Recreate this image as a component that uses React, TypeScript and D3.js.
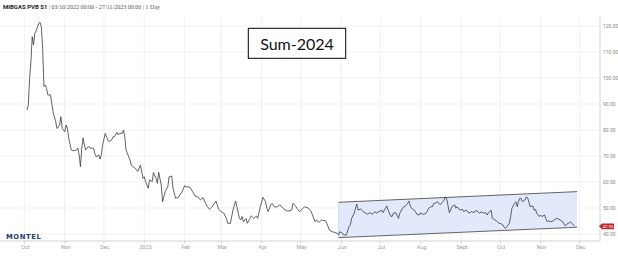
import React from "react";
import * as d3 from "d3";

// Day offsets from 03/10/2022 and daily settlement prices (EUR/MWh)
const dayOffsets = [
  0, 1, 2, 3, 4, 5, 6, 7, 9, 10,
  11, 12, 13, 14, 15, 16, 18, 19, 20, 22,
  23, 25, 26, 27, 29, 30, 31, 32, 34, 36,
  38, 39, 40, 41, 42, 43, 44, 45, 47, 49,
  51, 52, 53, 55, 56, 57, 58, 60, 62, 63,
  65, 66, 67, 69, 70, 71, 73, 74, 75, 76,
  78, 79, 80, 83, 85, 87, 89, 90, 91, 93,
  94, 96, 97, 99, 100, 101, 103, 104, 106, 108,
  109, 111, 112, 114, 116, 119, 121, 122, 125, 127,
  129, 131, 133, 135, 137, 138, 140, 142, 145, 147,
  149, 151, 153, 154, 156, 158, 160, 161, 163, 164,
  165, 166, 168, 169, 171, 172, 174, 176, 177, 179,
  181, 183, 184, 185, 187, 188, 190, 192, 194, 196,
  198, 200, 203, 204, 206, 207, 209, 211, 213, 216,
  218, 219, 221, 222, 224, 226, 229, 230, 232, 234,
  236, 238, 239, 240, 242, 243, 245, 247, 248, 249,
  251, 252, 253, 254, 256, 258, 260, 261, 263, 265,
  267, 268, 270, 272, 273, 275, 276, 277, 279, 280,
  281, 283, 285, 286, 288, 289, 290, 292, 293, 294,
  295, 297, 298, 299, 301, 302, 303, 304, 306, 307,
  308, 310, 311, 312, 313, 315, 316, 317, 319, 320,
  321, 322, 323, 324, 325, 326, 328, 329, 330, 332,
  334, 335, 337, 339, 341, 343, 344, 346, 347, 349,
  350, 352, 353, 354, 356, 357, 358, 360, 361, 362,
  363, 365, 366, 367, 368, 370, 371, 372, 374, 375,
  376, 377, 378, 379, 380, 382, 383, 384, 385, 386,
  388, 389, 390, 391, 393, 394, 395, 397, 398, 399,
  400, 402, 404, 405, 407, 409, 411, 412, 413, 414,
  416, 417, 418, 420,
];

const prices = [
  87.7, 89.6, 99.9, 106.3, 115.9, 112.7, 117.2, 118.1, 121.0, 121.4,
  119.7, 111.4, 96.7, 97.3, 96.0, 93.5, 93.5, 90.3, 87.0, 83.2,
  80.6, 81.9, 85.1, 80.6, 79.3, 81.9, 80.6, 76.8, 72.3, 72.0,
  72.3, 73.0, 70.4, 65.9, 73.0, 77.0, 74.2, 72.3, 73.6, 73.0,
  73.0, 71.0, 69.7, 70.4, 68.8, 70.4, 74.2, 78.7, 76.2, 75.5,
  76.2, 77.4, 77.4, 79.1, 78.1, 78.7, 78.7, 80.0, 77.4, 72.3,
  69.7, 68.5, 66.5, 65.3, 64.0, 66.5, 61.4, 62.0, 60.1, 57.6,
  60.8, 60.1, 63.6, 61.4, 59.5, 63.7, 58.8, 52.4, 56.3, 58.2,
  62.0, 62.3, 57.6, 53.7, 54.1, 56.3, 58.6, 58.2, 58.0, 56.3,
  54.6, 54.3, 53.1, 54.0, 51.8, 50.8, 49.5, 50.5, 52.7, 49.5,
  48.6, 48.0, 46.0, 44.1, 44.1, 49.2, 52.7, 50.5, 46.0, 45.4,
  46.7, 44.7, 46.0, 44.1, 46.0, 47.0, 46.0, 46.9, 46.0, 50.5,
  54.1, 52.4, 49.9, 48.6, 51.2, 51.8, 50.3, 50.5, 51.2, 50.1,
  49.2, 48.8, 49.2, 51.8, 50.8, 49.9, 48.6, 49.5, 50.5, 49.9,
  48.6, 47.3, 44.7, 45.4, 44.5, 45.4, 45.1, 44.1, 41.5, 40.9,
  40.6, 40.3, 39.6, 40.9, 40.3, 39.6, 39.6, 42.8, 43.5, 46.0,
  48.0, 49.9, 51.5, 49.2, 49.6, 48.6, 48.0, 47.6, 48.2, 47.6,
  48.6, 48.0, 48.6, 49.2, 48.2, 49.9, 50.8, 49.2, 46.9, 46.7,
  48.0, 48.2, 46.0, 48.0, 49.9, 50.5, 50.5, 51.8, 52.7, 50.8,
  49.9, 49.2, 48.6, 47.6, 47.3, 48.2, 47.7, 47.6, 48.0, 48.6,
  49.9, 50.5, 50.5, 51.8, 51.8, 52.4, 51.8, 51.2, 52.4, 53.1,
  54.3, 53.3, 50.8, 48.2, 49.2, 50.5, 51.2, 49.9, 50.5, 49.2,
  49.5, 48.6, 49.2, 48.0, 48.6, 48.2, 49.0, 48.6, 48.0, 48.6,
  48.0, 48.2, 47.3, 48.2, 49.2, 46.0, 45.7, 45.1, 44.7, 44.1,
  44.1, 43.5, 42.6, 42.2, 42.8, 44.1, 46.7, 49.9, 51.8, 52.4,
  50.5, 52.4, 53.7, 53.7, 52.4, 53.1, 54.3, 54.0, 52.4, 50.5,
  50.8, 49.2, 49.5, 48.0, 46.7, 47.3, 46.7, 47.3, 46.0, 44.7,
  45.1, 44.7, 45.1, 45.7, 46.0, 45.4, 44.7, 43.8, 43.1, 43.8,
  44.3, 44.7, 44.1, 42.95,
];

const yTicks = [40, 50, 60, 70, 80, 90, 100, 110, 120];
const monthLabels = ["Oct", "Nov", "Dec", "2023", "Feb", "Mar", "Apr", "May", "Jun", "Jul", "Aug", "Sept", "Oct", "Nov", "Dec"];

// Trend channel drawn on the chart (day offsets, price levels)
const channelDays = [239, 422];
const channelTop = [52.2, 56.3];
const channelBottom = [38.6, 42.6];

const titleBold = "MIBGAS PVB S1";
const titleRest = " | 03/10/2022 00:00 - 27/11/2023 00:00 | 1 Day";
const annotation = "Sum-2024";

const startDate = new Date(2022, 9, 3);
const endDate = new Date(2023, 10, 27);

export default function App() {
  const W = 618, H = 262;
  const plotTop = 17, plotBottom = 241, plotLeft = 0, plotRight = 600;

  const x = d3.scaleTime().domain([startDate, endDate]).range([27, 574.5]);
  const y = d3.scaleLinear().domain([40, 120]).range([234, 26]);
  const dateOf = (d: number) => d3.timeDay.offset(startDate, d);

  const data = dayOffsets.map((d, i) => ({ date: dateOf(d), v: prices[i] }));
  const line = d3.line<{ date: Date; v: number }>().x((d) => x(d.date)).y((d) => y(d.v));

  const months = d3.timeMonth.range(new Date(2022, 9, 1), new Date(2023, 11, 2));

  const cx0 = x(dateOf(channelDays[0]));
  const cx1 = x(dateOf(channelDays[1]));
  const ct0 = y(channelTop[0]), ct1 = y(channelTop[1]);
  const cb0 = y(channelBottom[0]), cb1 = y(channelBottom[1]);

  const last = prices[prices.length - 1];
  const ly = y(last);

  return (
    <svg width={W} height={H} style={{ position: "absolute", left: 0, top: 0, background: "#fff" }}>
      {yTicks.map((t) => (
        <line key={"h" + t} x1={plotLeft} x2={plotRight} y1={y(t)} y2={y(t)} stroke="#f0f0f0" strokeWidth={0.8} />
      ))}
      {months.map((m, i) => (
        <line key={"v" + i} x1={x(m)} x2={x(m)} y1={plotTop} y2={plotBottom} stroke="#eeeeee" strokeWidth={0.8} />
      ))}

      <polygon
        points={`${cx0},${ct0} ${cx1},${ct1} ${cx1},${cb1} ${cx0},${cb0}`}
        fill="#e2e9fb"
        stroke="none"
      />
      <line x1={cx0} x2={cx0} y1={ct0} y2={cb0} stroke="#c9d4f2" strokeWidth={0.8} />
      <line x1={cx0} x2={cx1} y1={ct0} y2={ct1} stroke="#555" strokeWidth={0.9} />
      <line x1={cx0} x2={cx1} y1={cb0} y2={cb1} stroke="#555" strokeWidth={0.9} />

      <path d={line(data) || ""} fill="none" stroke="#3a3a3a" strokeWidth={0.8} strokeLinejoin="round" />

      <line x1={plotLeft} x2={plotRight} y1={plotBottom} y2={plotBottom} stroke="#c8c8c8" strokeWidth={0.8} />
      <line x1={plotRight} x2={plotRight} y1={plotTop} y2={plotBottom} stroke="#c8c8c8" strokeWidth={0.8} />
      {months.map((m, i) => (
        <g key={"mt" + i}>
          <line x1={x(m)} x2={x(m)} y1={plotBottom} y2={plotBottom + 2.5} stroke="#c8c8c8" strokeWidth={0.8} />
          <text x={x(m) + 1} y={plotBottom + 8} fontSize={5.5} fill="#a0a0a0" textAnchor="middle" fontFamily="Roboto, sans-serif">
            {monthLabels[i]}
          </text>
        </g>
      ))}
      {yTicks.map((t) => (
        <text key={"yt" + t} x={603} y={y(t) + 1.8} fontSize={5} fill="#888" fontFamily="Roboto, sans-serif">
          {t.toFixed(2)}
        </text>
      ))}

      <path d={`M599,${ly} L602,${ly - 2.8} L614,${ly - 2.8} L614,${ly + 2.8} L602,${ly + 2.8} Z`} fill="#c1272d" />
      <text x={608} y={ly + 1.6} fontSize={4.2} fill="#fff" textAnchor="middle" fontFamily="Roboto, sans-serif">
        {last.toFixed(2)}
      </text>

      <text x={3} y={9} fontSize={6}>
        <tspan fontFamily="Roboto, sans-serif" fontWeight="bold" fill="#222">{titleBold}</tspan>
        <tspan fontFamily="'Liberation Serif', serif" fill="#555">{titleRest}</tspan>
      </text>

      <text x={6} y={238.5} fontSize={6.8} fontWeight="bold" fill="#1f3b73" letterSpacing={0.6} fontFamily="'DejaVu Sans', sans-serif">
        MONTEL
      </text>

      <rect x={248.3} y={28.3} width={97.4} height={30} fill="#fff" stroke="#000" strokeWidth={1} />
      <text x={297} y={49.5} fontSize={16} textAnchor="middle" fill="#111" fontFamily="Lato, sans-serif">
        {annotation}
      </text>
    </svg>
  );
}
